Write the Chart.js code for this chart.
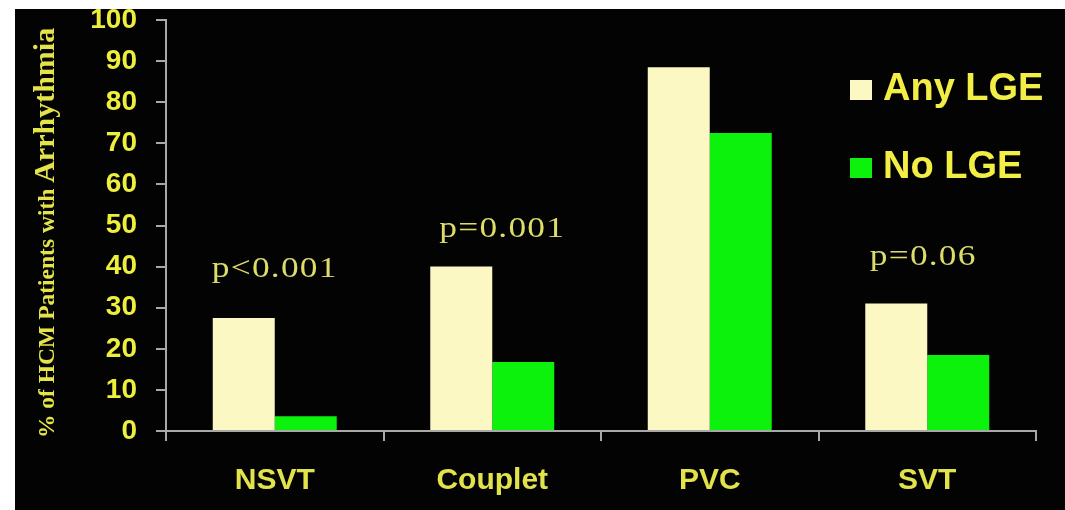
<!DOCTYPE html>
<html>
<head>
<meta charset="utf-8">
<script src="https://cdn.jsdelivr.net/npm/chart.js@4/dist/chart.umd.min.js"></script>
<style>
  html, body { margin: 0; padding: 0; background: #fff; }
  #wrap { position: absolute; left: 15px; top: 9px; width: 1050px; height: 501px; background: #030303; }
</style>
</head>
<body>
<div id="wrap"><canvas id="arrChart" width="1050" height="501"></canvas></div>
<script>
// --- data ---
const categories = ['NSVT', 'Couplet', 'PVC', 'SVT'];
const anyLge = [27.5, 40, 88.5, 31];
const noLge = [3.6, 16.8, 72.5, 18.5];
const pValues = ['p<0.001', 'p=0.001', '', 'p=0.06'];
const yTickValues = [0, 10, 20, 30, 40, 50, 60, 70, 80, 90, 100];

const yellow = '#eeee3c';

// y axis title, two sizes like the slide
const yTitlePlugin = {
  id: 'yTitle',
  afterDraw(chart) {
    const ctx = chart.ctx;
    ctx.save();
    ctx.translate(39, 429);
    ctx.rotate(-Math.PI / 2);
    ctx.fillStyle = '#e4e44a';
    ctx.textBaseline = 'alphabetic';
    ctx.textAlign = 'left';
    ctx.font = 'bold 23.5px "Liberation Serif"';
    const part1 = '% of HCM Patients with ';
    const w1 = ctx.measureText(part1).width;
    ctx.fillText(part1, 0, 0);
    ctx.font = 'bold 30px "Liberation Serif"';
    ctx.fillText('Arrhythmia', w1, 0);
    ctx.restore();
  }
};

// p-value labels above each group
const pLabelPlugin = {
  id: 'pLabels',
  afterDatasetsDraw(chart, args, opts) {
    const ctx = chart.ctx;
    const xs = chart.scales.x, ys = chart.scales.y;
    ctx.save();
    ctx.fillStyle = '#dcdc6a';
    ctx.font = '29px "Liberation Serif"';
    ctx.letterSpacing = '1px';
    ctx.textAlign = 'center';
    ctx.textBaseline = 'middle';
    pValues.forEach((txt, i) => {
      if (!txt) return;
      const px = xs.getPixelForValue(i) + opts.dx[i];
      const py = ys.getPixelForValue(opts.heights[i]);
      ctx.save();
      ctx.translate(px, py);
      ctx.scale(1.22, 1);
      ctx.fillText(txt, 0, 0);
      ctx.restore();
    });
    ctx.restore();
  }
};

// legend placed inside the plot, top right
const boxLegendPlugin = {
  id: 'boxLegend',
  afterDraw(chart) {
    const ctx = chart.ctx;
    const rows = [91, 169];
    ctx.save();
    ctx.font = 'bold 38px "Liberation Sans"';
    ctx.textBaseline = 'alphabetic';
    chart.data.datasets.forEach((ds, i) => {
      ctx.fillStyle = ds.backgroundColor;
      ctx.fillRect(835, rows[i] - 20, 22, 20);
      ctx.fillStyle = '#f2ee46';
      ctx.fillText(ds.label, 868, rows[i]);
    });
    ctx.restore();
  }
};

new Chart(document.getElementById('arrChart').getContext('2d'), {
  type: 'bar',
  data: {
    labels: categories,
    datasets: [
      { label: 'Any LGE', data: anyLge, backgroundColor: '#fbf8c4' },
      { label: 'No LGE', data: noLge, backgroundColor: '#0cf20c' }
    ]
  },
  options: {
    responsive: false,
    devicePixelRatio: 1,
    animation: false,
    layout: { padding: { top: 0, right: 29, left: 0, bottom: 0 } },
    datasets: {
      bar: { categoryPercentage: 0.57, barPercentage: 1 }
    },
    plugins: {
      legend: { display: false },
      tooltip: { enabled: false },
      pLabels: { heights: [39.4, 49, 0, 42.3], dx: [0, 10, 0, -4] }
    },
    scales: {
      x: {
        offset: true,
        grid: { display: true, drawOnChartArea: false, offset: true, tickLength: 10, color: '#a8a8a8', lineWidth: 2 },
        border: { display: true, color: '#a8a8a8', width: 2 },
        ticks: { color: '#e2e24a', font: { family: 'Liberation Sans', weight: 'bold', size: 30 }, padding: 22 },
        afterFit(scale) { scale.height = 79; }
      },
      y: {
        min: 0,
        max: 100,
        afterBuildTicks(scale) { scale.ticks = yTickValues.map(v => ({ value: v })); },
        grid: { display: true, drawOnChartArea: false, tickLength: 10, color: '#a8a8a8', lineWidth: 2 },
        border: { display: true, color: '#a8a8a8', width: 2 },
        ticks: { color: yellow, font: { family: 'Liberation Sans', weight: 'bold', size: 28 }, padding: 19 },
        afterFit(scale) { scale.width = 151; scale.paddingTop = 11; }
      }
    }
  },
  plugins: [yTitlePlugin, pLabelPlugin, boxLegendPlugin]
});
</script>
</body>
</html>
